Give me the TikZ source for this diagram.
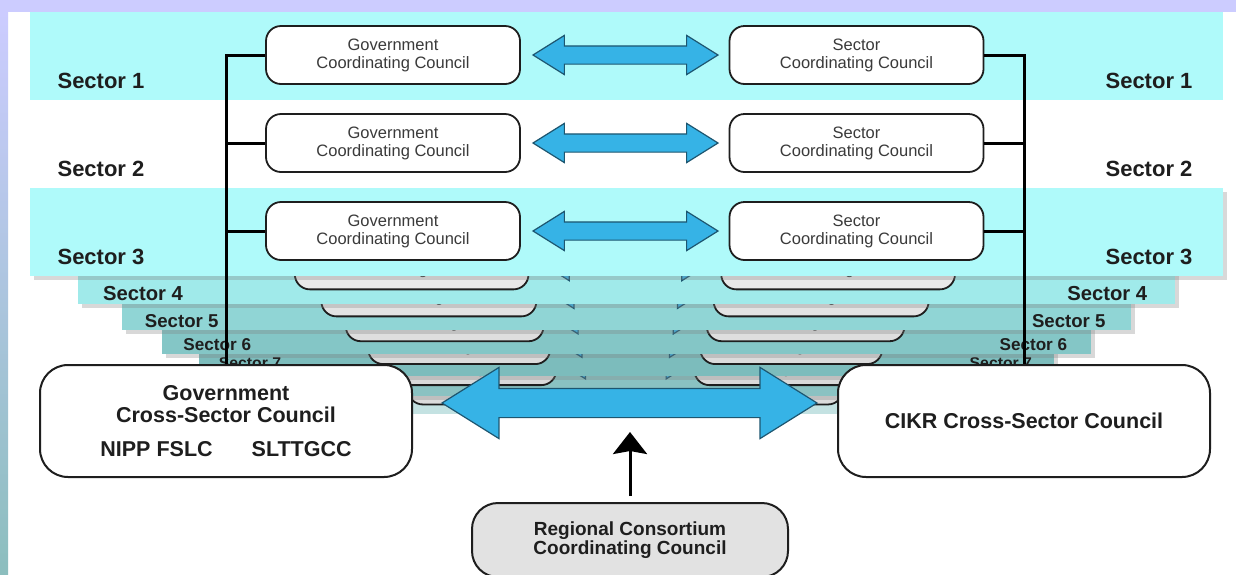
\documentclass[tikz,border=0pt]{standalone}
\usepackage{fontspec}
\setmainfont{Liberation Sans}
\usetikzlibrary{shapes.arrows,shadows,calc,arrows.meta}
\definecolor{lav}{HTML}{CCCCFF}
\definecolor{stripbot}{HTML}{8CBEBE}
\definecolor{cyanband}{HTML}{AFFAFA}
\definecolor{bandA}{HTML}{A0EAEA}
\definecolor{bandB}{HTML}{90D5D5}
\definecolor{bandC}{HTML}{84C6C6}
\definecolor{bandD}{HTML}{7CBCBC}
\definecolor{bandE}{HTML}{8AC2C2}
\definecolor{bandF}{HTML}{C4E2E2}
\definecolor{arrowblue}{HTML}{36B3E6}
\definecolor{arrowline}{HTML}{1D5670}
\definecolor{ink}{HTML}{1E1E1E}
\definecolor{boxtext}{HTML}{3A3A3A}
\definecolor{reggray}{HTML}{E2E2E2}
\tikzset{
  cbox/.style={rectangle, rounded corners=15pt, draw=ink, line width=1.8pt,
    minimum width=254pt, minimum height=58pt, inner sep=0pt, align=center,
    text=boxtext, font=\fontsize{16.5}{18}\selectfont},
  seclab/.style={text=ink, inner sep=0pt, font=\fontsize{22}{24}\selectfont\bfseries},
  darrow/.style={double arrow, draw=arrowline, fill=arrowblue, line width=1.2pt,
    inner xsep=0pt, inner ysep=8.5pt, minimum height=185pt,
    double arrow head extend=10.5pt, double arrow tip angle=64},
  bigarrow/.style={double arrow, draw=arrowline, fill=arrowblue, line width=1.2pt,
    inner xsep=0pt, inner ysep=14pt, minimum height=375pt,
    double arrow head extend=21pt, double arrow tip angle=64},
  bigbox/.style={rectangle, rounded corners=28pt, draw=ink, line width=2pt, fill=white,
    minimum width=372pt, minimum height=112pt, inner sep=0pt, align=center, text=ink,
    font=\fontsize{21.5}{22}\selectfont\bfseries},
  regbox/.style={rectangle, rounded corners=26pt, draw=ink, line width=2pt, fill=reggray,
    minimum width=316pt, minimum height=74pt, inner sep=0pt, align=center, text=ink,
    font=\fontsize{19}{19.5}\selectfont\bfseries},
  conn/.style={draw=black, line width=3pt},
  bandshadow/.style={drop shadow={shadow xshift=4pt, shadow yshift=-4pt, opacity=0.3}}
}
% #1 scale, #2 extra shift, #3 band options, #4 box fill, #5 label, #6 prefix, #7 label y
\newcommand\seclayer[7]{%
  \begin{scope}[shift={(626.5,627)}, scale=#1, shift={(-626.5,-627)}, #2, transform shape]
    \fill[#3] (30,188) rectangle (1223,276);
    \node[cbox, fill=#4] (#6g) at (393,231) {Government\\Coordinating Council};
    \node[cbox, fill=#4] (#6s) at (856.5,231) {Sector\\Coordinating Council};
    \node[darrow] (#6a) at (625.5,231) {};
    \ifx&#5&\else
      \node[seclab] (#6l) at (101,#7) {#5};
      \node[seclab] (#6r) at (1149,#7) {#5};
    \fi
  \end{scope}}
\begin{document}
\begin{tikzpicture}[x=1pt, y=-1pt]
  \useasboundingbox (0,0) rectangle (1236,574);
  \fill[white] (0,0) rectangle (1236,574);
  \fill[lav] (0,0) rectangle (1236,12);
  \shade[top color=lav, bottom color=stripbot] (0,12) rectangle (8,574);

  % stacked back layers (far to near)
  \seclayer{0.6064}{}{fill=bandF}{gray!28}{}{sI}{265}
  \seclayer{0.6591}{}{fill=bandE, bandshadow}{gray!30}{}{sH}{265}
  \seclayer{0.7164}{}{fill=bandD, bandshadow}{gray!28}{Sector 7}{sG}{258}
  \seclayer{0.7787}{}{fill=bandC, bandshadow}{gray!26}{Sector 6}{sF}{264}
  \seclayer{0.8464}{}{fill=bandB, bandshadow}{gray!22}{Sector 5}{sE}{265}
  \seclayer{0.92}{}{fill=bandA, bandshadow}{gray!18}{Sector 4}{sD}{265}
  % front layers
  \seclayer{1}{yshift=176pt}{fill=cyanband}{white}{Sector 1}{sA}{257}
  \seclayer{1}{yshift=88pt}{fill=white}{white}{Sector 2}{sB}{257}
  \seclayer{1}{}{fill=cyanband, bandshadow}{white}{Sector 3}{sC}{257}

  % cross-sector councils
  \node[bigbox] (gcs) at (226,421) {Government\\Cross-Sector Council\\[12pt]NIPP FSLC\hspace{39pt}SLTTGCC};
  \node[bigbox] (cikr) at (1024,421) {CIKR Cross-Sector Council};
  \node[regbox] (reg) at (630,540) {Regional Consortium\\Coordinating Council};

  % vertical connectors
  \draw[conn] (sAg.west) -| (gcs.north);
  \draw[conn] (sBg.west) -- (sBg.west -| gcs.north);
  \draw[conn] (sCg.west) -- (sCg.west -| gcs.north);
  \draw[conn] (sAs.east) -| (cikr.north);
  \draw[conn] (sBs.east) -- (sBs.east -| cikr.north);
  \draw[conn] (sCs.east) -- (sCs.east -| cikr.north);

  % big double arrow
  \node[bigarrow] (ba) at (629.5,403) {};
  % regional arrow
  \draw[line width=3pt, -{Stealth[length=22pt, width=34pt, inset=3pt]},
        shorten <=6pt, shorten >=29pt] (reg.north) -- (reg.north |- ba.center);
\end{tikzpicture}
\end{document}
